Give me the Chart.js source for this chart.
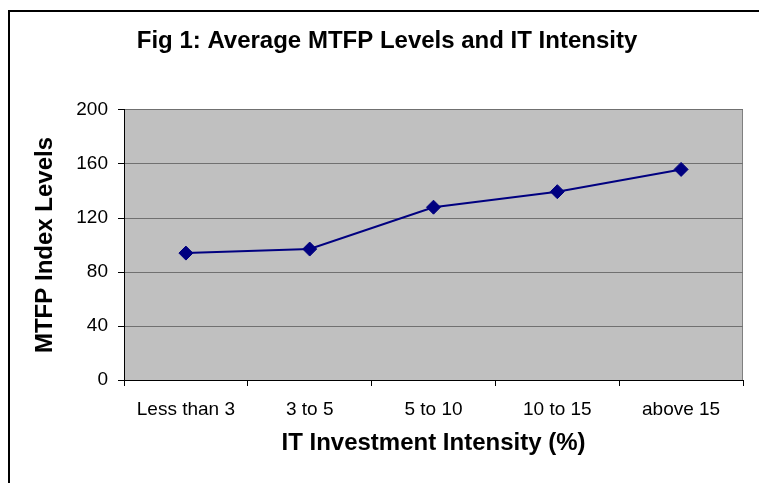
<!DOCTYPE html>
<html>
<head>
<meta charset="utf-8">
<script src="https://cdn.jsdelivr.net/npm/chart.js@4.4.0/dist/chart.umd.min.js"></script>
<style>
  html, body { margin: 0; padding: 0; background: #fff; }
  #wrap { position: relative; width: 759px; height: 483px; overflow: hidden; }
  #frame { position: absolute; left: 8px; top: 10px; width: 800px; height: 520px; border: 2px solid #000; box-sizing: border-box; }
  #chart { position: absolute; left: 0; top: 0; }
</style>
</head>
<body>
<div id="wrap">
  <div id="frame"></div>
  <canvas id="chart" width="759" height="483"></canvas>
</div>
<script>
var categories = ['Less than 3', '3 to 5', '5 to 10', '10 to 15', 'above 15'];
var mtfpLevels = [94, 97, 128, 139.5, 156];
var yTicks = [0, 40, 80, 120, 160, 200];

var fontFamily = '"Liberation Sans", Arial, sans-serif';

// gray plot background with the dark right border
var plotBackground = {
    id: 'plotBackground',
    beforeDraw: function (chart) {
        var a = chart.chartArea;
        var ctx = chart.ctx;
        ctx.save();
        ctx.fillStyle = '#c0c0c0';
        ctx.fillRect(a.left, a.top, a.right - a.left, a.bottom - a.top);
        ctx.strokeStyle = '#808080';
        ctx.lineWidth = 1;
        ctx.beginPath();
        ctx.moveTo(a.right - 0.5, a.top);
        ctx.lineTo(a.right - 0.5, a.bottom);
        ctx.stroke();
        ctx.restore();
    }
};

var ctx = document.getElementById('chart');
var myChart = new Chart(ctx, {
    type: 'line',
    data: {
        labels: categories,
        datasets: [{
            data: mtfpLevels,
            borderColor: '#000080',
            backgroundColor: '#000080',
            borderWidth: 2,
            pointStyle: 'rectRot',
            pointRadius: 7,
            pointBorderWidth: 1,
            tension: 0
        }]
    },
    options: {
        responsive: false,
        animation: false,
        layout: {
            padding: { left: 31, right: 16, top: 0, bottom: 0 }
        },
        plugins: {
            legend: { display: false },
            tooltip: { enabled: false },
            title: {
                display: true,
                text: 'Fig 1: Average MTFP Levels and IT Intensity',
                color: '#000',
                font: { family: fontFamily, size: 24, weight: 'bold' },
                padding: { top: 27.4, bottom: 53.8 }
            }
        },
        scales: {
            x: {
                offset: true,
                afterFit: function (scale) { scale.height = 103; },
                grid: {
                    offset: true,
                    drawOnChartArea: false,
                    drawTicks: true,
                    tickLength: 6,
                    tickColor: '#000'
                },
                border: { color: '#000', width: 1 },
                ticks: {
                    color: '#000',
                    padding: 12,
                    maxRotation: 0,
                    autoSkip: false,
                    font: { family: fontFamily, size: 19 }
                },
                title: {
                    display: true,
                    text: 'IT Investment Intensity (%)',
                    color: '#000',
                    font: { family: fontFamily, size: 24, weight: 'bold' },
                    padding: { top: 25.6, bottom: 25.6 }
                }
            },
            y: {
                min: 0,
                max: 200,
                afterFit: function (scale) { scale.width = 93; },
                afterBuildTicks: function (scale) {
                    scale.ticks = yTicks.map(function (v) { return { value: v }; });
                },
                grid: {
                    color: '#707070',
                    tickColor: '#000',
                    tickLength: 6,
                    lineWidth: 1
                },
                border: { color: '#000', width: 1 },
                ticks: {
                    color: '#000',
                    padding: 10,
                    font: { family: fontFamily, size: 19 }
                },
                title: {
                    display: true,
                    text: 'MTFP Index Levels',
                    color: '#000',
                    font: { family: fontFamily, size: 24, weight: 'bold' },
                    padding: 0
                }
            }
        }
    },
    plugins: [plotBackground]
});
</script>
</body>
</html>
